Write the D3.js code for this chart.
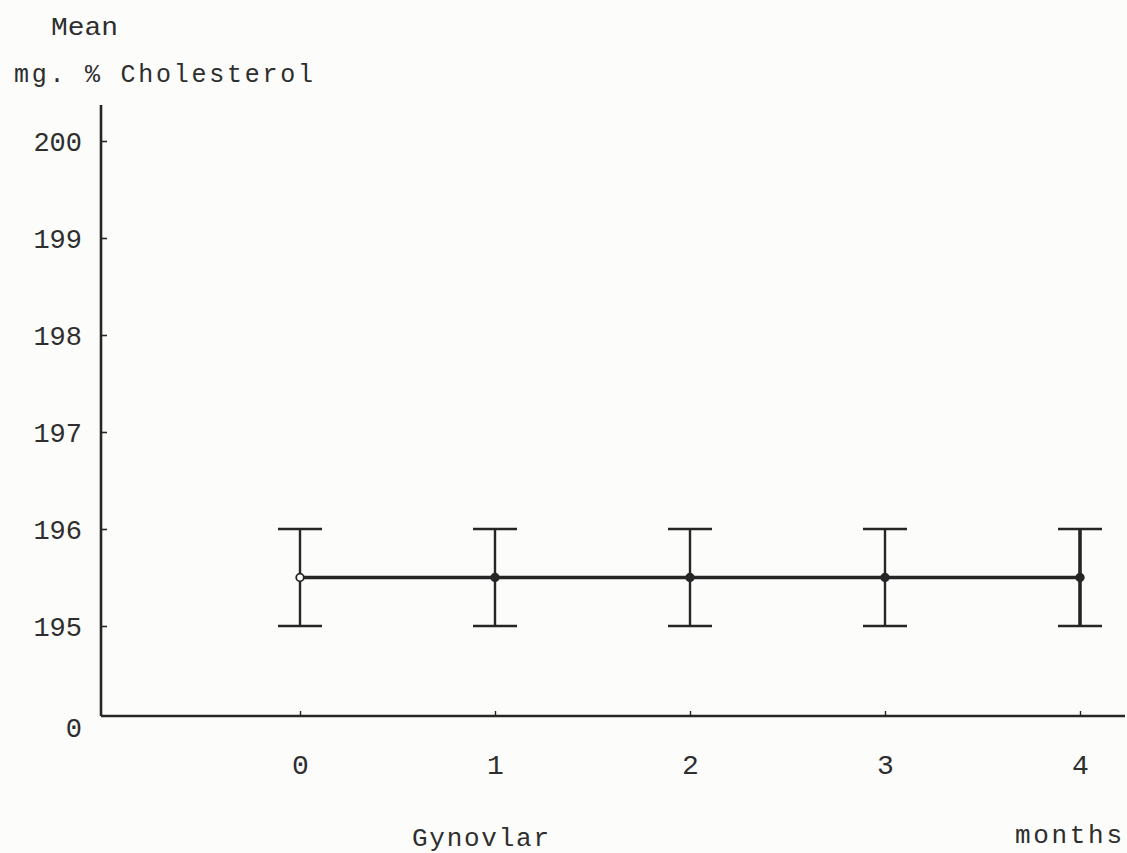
<!DOCTYPE html>
<html>
<head>
<meta charset="utf-8">
<script src="https://cdn.jsdelivr.net/npm/d3@7"></script>
<style>
  html, body { margin: 0; padding: 0; background: #fcfcfb; }
  svg { display: block; }
  text { font-family: "Liberation Mono", "DejaVu Sans Mono", monospace; fill: #2e2e2e; }
</style>
</head>
<body>
<svg id="chart" width="1127" height="853"></svg>
<script>
// Mean serum cholesterol (mg. %) over months of Gynovlar treatment
const months = [0, 1, 2, 3, 4];
const meanChol = [195.5, 195.5, 195.5, 195.5, 195.5];
const lowChol = [195, 195, 195, 195, 195];
const highChol = [196, 196, 196, 196, 196];
const yTickValues = [0, 195, 196, 197, 198, 199, 200];
const xTickLabels = ["0", "1", "2", "3", "4"];

const ink = "#262626";
const svg = d3.select("#chart");

// Broken value axis: 0 sits at the baseline, 195–200 spread over the plot
const y = d3.scaleLinear().domain([0, 195, 200]).range([716, 626, 141]);
const x = d3.scaleLinear().domain([0, 4]).range([300, 1080]);
const axisX = 101;

// Y axis
const yAxis = svg.append("g")
  .attr("transform", `translate(${axisX},0)`)
  .call(d3.axisLeft(y).tickValues(yTickValues).tickFormat(d3.format("d"))
    .tickSizeInner(-6).tickSizeOuter(0).tickPadding(19));
yAxis.select(".domain").remove();
yAxis.selectAll(".tick line").attr("stroke", ink).attr("stroke-width", 1.6)
  .filter(d => d === 0).remove();
yAxis.selectAll(".tick text")
  .attr("font-size", 27).attr("fill", "#333")
  .attr("dy", d => d === 0 ? "0.75em" : "0.35em")
  .attr("font-family", "Liberation Mono, DejaVu Sans Mono, monospace");
svg.append("line")
  .attr("x1", axisX).attr("x2", axisX)
  .attr("y1", y(200) - 36).attr("y2", y(0))
  .attr("stroke", ink).attr("stroke-width", 2.6);

// X axis
const xAxis = svg.append("g")
  .attr("transform", `translate(0,${y(0)})`)
  .call(d3.axisBottom(x).tickValues(months).tickFormat((d, i) => xTickLabels[i])
    .tickSizeInner(-5).tickSizeOuter(0).tickPadding(38));
xAxis.select(".domain").remove();
xAxis.selectAll(".tick line").attr("stroke", ink).attr("stroke-width", 1.4);
xAxis.selectAll(".tick text")
  .attr("font-size", 28).attr("fill", "#333")
  .attr("font-family", "Liberation Mono, DejaVu Sans Mono, monospace");
svg.append("line")
  .attr("x1", axisX).attr("x2", 1125)
  .attr("y1", y(0)).attr("y2", y(0))
  .attr("stroke", ink).attr("stroke-width", 2.6);

// Error bars (range low–high)
const capHalf = 22;
const bars = svg.append("g").selectAll("g").data(months).join("g");
bars.append("line")
  .attr("x1", (d) => x(d)).attr("x2", (d) => x(d))
  .attr("y1", (d, i) => y(highChol[i])).attr("y2", (d, i) => y(lowChol[i]))
  .attr("stroke", ink).attr("stroke-width", (d, i) => i === 4 ? 3.6 : 2.4);
bars.append("line")
  .attr("x1", (d) => x(d) - capHalf).attr("x2", (d) => x(d) + capHalf)
  .attr("y1", (d, i) => y(highChol[i])).attr("y2", (d, i) => y(highChol[i]))
  .attr("stroke", ink).attr("stroke-width", 2.4);
bars.append("line")
  .attr("x1", (d) => x(d) - capHalf).attr("x2", (d) => x(d) + capHalf)
  .attr("y1", (d, i) => y(lowChol[i])).attr("y2", (d, i) => y(lowChol[i]))
  .attr("stroke", ink).attr("stroke-width", 2.4);

// Mean line
const meanLine = d3.line().x((d, i) => x(months[i])).y(d => y(d));
svg.append("path")
  .datum(meanChol)
  .attr("d", meanLine)
  .attr("fill", "none")
  .attr("stroke", ink)
  .attr("stroke-width", 3.4);

// Mean markers: first point open, the rest solid
svg.append("g").selectAll("circle").data(meanChol).join("circle")
  .attr("cx", (d, i) => x(months[i]))
  .attr("cy", d => y(d))
  .attr("r", 3.8)
  .attr("fill", (d, i) => i === 0 ? "#fcfcfb" : ink)
  .attr("stroke", ink)
  .attr("stroke-width", 1.8);

// Titles
svg.append("text").attr("x", 51).attr("y", 35)
  .attr("font-size", 26).attr("textLength", 67).attr("lengthAdjust", "spacingAndGlyphs")
  .text("Mean");
svg.append("text").attr("x", 14).attr("y", 82)
  .attr("font-size", 25).attr("textLength", 299).attr("lengthAdjust", "spacing")
  .text("mg. % Cholesterol");
svg.append("text").attr("x", 412).attr("y", 846)
  .attr("font-size", 26).attr("textLength", 137).attr("lengthAdjust", "spacing")
  .text("Gynovlar");
svg.append("text").attr("x", 1015).attr("y", 843)
  .attr("font-size", 26).attr("textLength", 107).attr("lengthAdjust", "spacing")
  .text("months");
</script>
</body>
</html>
